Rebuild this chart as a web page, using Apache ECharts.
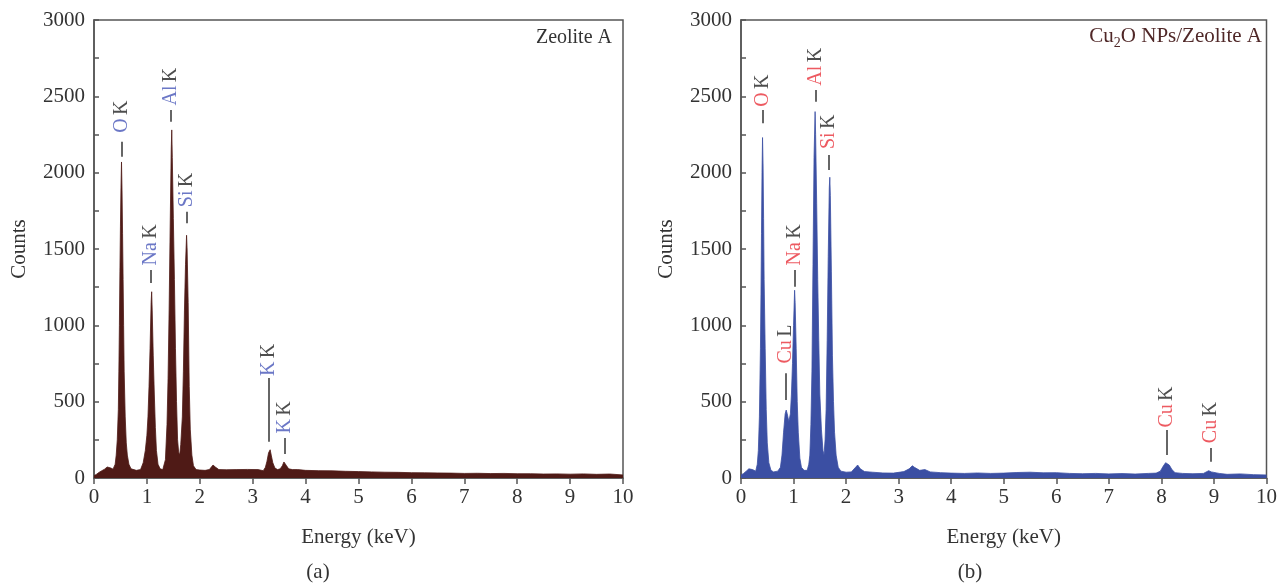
<!DOCTYPE html>
<html>
<head>
<meta charset="utf-8">
<title>EDS spectra</title>
<script src="https://cdn.jsdelivr.net/npm/echarts/dist/echarts.min.js"></script>
<style>
  html, body { margin: 0; padding: 0; background: #fff; }
  #main { width: 1280px; height: 586px; }
</style>
</head>
<body>
<div id="main"></div>
<script>
// ---- (a) Zeolite A spectrum: energy (keV) / counts
var energyA = [0.00,0.05,0.10,0.15,0.20,0.25,0.28,0.32,0.36,0.40,0.42,0.44,0.46,0.47,0.48,0.49,0.50,0.51,0.52,0.53,0.54,0.55,0.56,0.57,0.59,0.61,0.63,0.66,0.70,0.80,0.88,0.93,0.97,1.00,1.02,1.04,1.06,1.08,1.09,1.10,1.12,1.14,1.16,1.18,1.21,1.25,1.30,1.32,1.35,1.38,1.40,1.42,1.44,1.46,1.47,1.48,1.50,1.52,1.54,1.56,1.58,1.60,1.62,1.64,1.67,1.69,1.71,1.73,1.75,1.76,1.78,1.80,1.82,1.85,1.88,1.93,2.00,2.10,2.18,2.25,2.30,2.36,2.50,2.70,2.90,3.10,3.20,3.24,3.27,3.30,3.33,3.35,3.38,3.42,3.47,3.52,3.56,3.59,3.61,3.64,3.68,3.75,3.85,4.00,4.25,4.50,4.75,5.00,5.25,5.50,5.75,6.00,6.25,6.50,6.75,7.00,7.25,7.50,7.75,8.00,8.25,8.50,8.75,9.00,9.25,9.50,9.75,10.0];
var countsA = [15,25,38,48,58,72,82,65,58,90,150,250,450,700,1000,1350,1650,1900,2070,1880,1600,1300,1000,700,400,230,150,90,60,50,55,100,180,280,400,600,850,1150,1220,1100,800,550,330,180,90,60,55,60,120,350,650,1100,1650,2150,2280,2100,1700,1300,850,500,250,170,150,220,400,700,1100,1400,1590,1500,1150,600,320,150,80,55,52,50,55,85,70,55,54,55,56,55,48,70,110,165,185,150,100,65,55,60,80,105,110,80,60,55,55,50,48,47,44,42,40,38,37,35,34,33,32,30,31,29,30,28,28,26,27,25,27,24,26,20];

// ---- (b) Cu2O NPs/Zeolite A spectrum
var energyB = [0.00,0.05,0.10,0.15,0.18,0.22,0.28,0.31,0.33,0.35,0.37,0.38,0.39,0.40,0.41,0.42,0.43,0.44,0.46,0.48,0.50,0.53,0.57,0.62,0.70,0.75,0.78,0.81,0.84,0.86,0.88,0.91,0.94,0.96,0.98,1.00,1.02,1.03,1.05,1.07,1.09,1.12,1.15,1.20,1.26,1.29,1.31,1.33,1.35,1.37,1.39,1.41,1.42,1.44,1.46,1.48,1.50,1.53,1.56,1.58,1.60,1.62,1.64,1.66,1.68,1.69,1.70,1.72,1.74,1.76,1.78,1.81,1.85,1.90,2.00,2.10,2.18,2.22,2.27,2.35,2.50,2.70,2.90,3.10,3.20,3.26,3.30,3.40,3.50,3.60,3.80,4.00,4.25,4.50,4.75,5.00,5.25,5.50,5.75,6.00,6.25,6.50,6.75,7.00,7.25,7.50,7.75,7.90,7.98,8.03,8.08,8.11,8.15,8.20,8.26,8.40,8.60,8.80,8.90,8.95,9.10,9.25,9.50,9.75,10.0];
var countsB = [20,30,45,60,70,55,45,90,180,400,850,1200,1600,2000,2230,2050,1700,1300,850,450,230,100,50,40,45,70,150,300,420,445,420,370,420,550,750,1000,1230,1150,850,500,300,130,70,50,50,90,150,350,700,1400,2100,2400,2250,1800,1300,900,550,320,180,150,250,450,900,1450,1900,1970,1850,1350,800,500,300,150,70,45,38,40,70,85,60,42,38,33,32,42,60,80,70,50,55,40,35,32,30,33,30,32,36,38,34,35,30,28,30,27,29,26,30,32,45,75,100,105,85,55,35,30,28,30,48,40,30,24,27,22,20];

// ---- peak labels: name, line letter, energy, connector from/to, text start (counts)
var labNameA = ['O','Na','Al','Si','K','K'];
var labLineA = ['K','K','K','K','K','K'];
var labEA = [0.52,1.08,1.46,1.75,3.31,3.61];
var labFromA = [2104,1277,2333,1668,238,157];
var labToA = [2202,1362,2410,1744,655,262];
var labTextA = [2262,1392,2440,1774,668,292];

var labNameB = ['O','Cu','Na','Al','Si','Cu','Cu'];
var labLineB = ['K','L','K','K','K','K','K'];
var labEB = [0.41,0.855,1.025,1.42,1.675,8.11,8.93];
var labFromB = [2323,511,1253,2465,2017,151,107];
var labToB = [2410,686,1362,2541,2115,314,196];
var labTextB = [2432,750,1392,2570,2155,330,228];

var fontFam = '"Liberation Serif", "DejaVu Serif", serif';
var axisColor = '#555';
var textColor = '#333';

function zip(xs, ys){
  var out = [];
  for (var i = 0; i < xs.length; i++) out.push([xs[i], ys[i]]);
  return out;
}

function xAxisOf(idx){
  return {
    gridIndex: idx, type: 'value', min: 0, max: 10, interval: 1,
    name: 'Energy (keV)', nameLocation: 'middle', nameGap: 49,
    nameTextStyle: {fontSize: 21, color: textColor, fontFamily: fontFam},
    axisLine: {lineStyle: {color: axisColor, width: 1.5}},
    axisTick: {inside: false, length: 6, lineStyle: {color: axisColor, width: 1.5}},
    axisLabel: {fontSize: 21, color: textColor, margin: 9, fontFamily: fontFam},
    splitLine: {show: false}
  };
}

function yAxisOf(idx){
  return {
    gridIndex: idx, type: 'value', min: 0, max: 3000, interval: 500,
    name: 'Counts', nameLocation: 'middle', nameGap: 64,
    nameTextStyle: {fontSize: 21, color: textColor, fontFamily: fontFam},
    axisLine: {show: true, lineStyle: {color: axisColor, width: 1.5}},
    axisTick: {inside: true, length: 5, lineStyle: {color: axisColor, width: 1.5}},
    minorTick: {show: true, splitNumber: 2, length: 5, lineStyle: {color: axisColor, width: 1.5}},
    axisLabel: {fontSize: 21, color: textColor, margin: 9, fontFamily: fontFam,
      formatter: function(v){ return String(v); }},
    splitLine: {show: false}
  };
}

function spectrum(idx, xs, ys, color){
  return {
    type: 'line', xAxisIndex: idx, yAxisIndex: idx,
    data: zip(xs, ys), symbol: 'none', sampling: 'none',
    lineStyle: {color: color, width: 0.8},
    areaStyle: {color: color, opacity: 1},
    z: 2
  };
}

// rotated labels + short connector lines
function peakLabels(idx, names, lines, es, from, to, txt, elColor){
  var pts = [], segs = [];
  for (var i = 0; i < names.length; i++){
    pts.push({value: [es[i], txt[i]], label: {formatter: '{el|' + names[i] + '} {k|' + lines[i] + '}'}});
    segs.push([{coord: [es[i], from[i]]}, {coord: [es[i], to[i]]}]);
  }
  return {
    type: 'scatter', xAxisIndex: idx, yAxisIndex: idx,
    data: pts, symbolSize: 1, itemStyle: {color: 'rgba(0,0,0,0)'},
    silent: true, z: 5,
    label: {
      show: true, position: 'inside', rotate: 90, align: 'left', verticalAlign: 'middle',
      rich: {
        el: {color: elColor, fontSize: 20, fontFamily: fontFam},
        k: {color: '#222', fontSize: 20, fontFamily: fontFam}
      }
    },
    markLine: {
      symbol: ['none', 'none'], silent: true, animation: false,
      label: {show: false},
      lineStyle: {color: '#333', width: 1.5, type: 'solid'},
      data: segs
    }
  };
}

var chart = echarts.init(document.getElementById('main'));
chart.setOption({
  animation: false,
  backgroundColor: '#fff',
  grid: [
    {left: 94, right: 657, top: 20, bottom: 108, show: true, borderColor: axisColor, borderWidth: 1.5},
    {left: 741, right: 12, top: 20, bottom: 108, show: true, borderColor: axisColor, borderWidth: 1.5}
  ],
  xAxis: [xAxisOf(0), xAxisOf(1)],
  yAxis: [yAxisOf(0), yAxisOf(1)],
  series: [
    spectrum(0, energyA, countsA, '#4f1a16'),
    spectrum(1, energyB, countsB, '#3b4fa3'),
    peakLabels(0, labNameA, labLineA, labEA, labFromA, labToA, labTextA, '#4655b8'),
    peakLabels(1, labNameB, labLineB, labEB, labFromB, labToB, labTextB, '#e8313a')
  ],
  graphic: [
    {type: 'text', x: 612, y: 38, style: {text: 'Zeolite A', textAlign: 'right', textVerticalAlign: 'middle', fill: '#333', font: '20px ' + fontFam}},
    {type: 'text', x: 1262, y: 36, style: {
      text: '{a|Cu}{s|2}{a|O NPs/Zeolite A}', textAlign: 'right', textVerticalAlign: 'top',
      rich: {
        a: {fill: '#502828', fontSize: 21, fontFamily: fontFam, verticalAlign: 'top'},
        s: {fill: '#502828', fontSize: 14, fontFamily: fontFam, verticalAlign: 'bottom', padding: [10, 0, 0, 0]}
      }
    }, y: 26},
    {type: 'text', x: 318, y: 572, style: {text: '(a)', textAlign: 'center', textVerticalAlign: 'middle', fill: '#333', font: '21px ' + fontFam}},
    {type: 'text', x: 970, y: 572, style: {text: '(b)', textAlign: 'center', textVerticalAlign: 'middle', fill: '#333', font: '21px ' + fontFam}}
  ]
});
</script>
</body>
</html>
